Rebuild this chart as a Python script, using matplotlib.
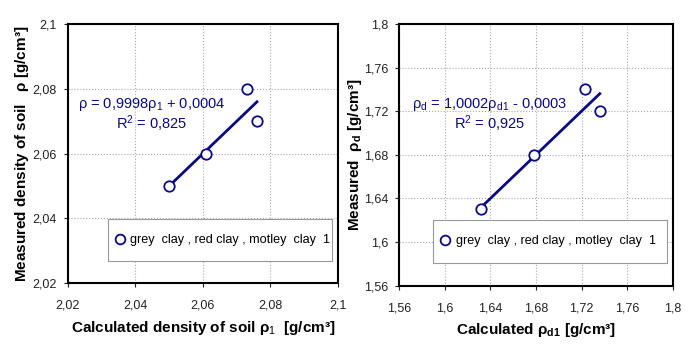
#------------------------------------------------------------------------------
# Measured vs calculated soil density (two panels)
#------------------------------------------------------------------------------

import matplotlib as mpl
import matplotlib.pyplot as plt
from matplotlib.patches import Rectangle
from matplotlib.ticker import FuncFormatter

mpl.rcParams['font.family'] = ['Liberation Sans', 'DejaVu Sans']
mpl.rcParams['mathtext.fontset'] = 'custom'
mpl.rcParams['mathtext.rm'] = 'Liberation Sans'
mpl.rcParams['mathtext.it'] = 'Liberation Sans:italic'
mpl.rcParams['mathtext.bf'] = 'Liberation Sans:bold'

# Left panel: density of soil
calc_rho1 = [2.050, 2.061, 2.073, 2.076]
meas_rho = [2.050, 2.060, 2.080, 2.070]
fit_left = (0.9998, 0.0004)
eq_left = 'ρ = 0,9998ρ$_1$ + 0,0004'
r2_left = 'R$^2$ = 0,825'
ticks_left = [2.02, 2.04, 2.06, 2.08, 2.1]

# Right panel: dry density
calc_rhod1 = [1.632, 1.678, 1.723, 1.736]
meas_rhod = [1.630, 1.680, 1.740, 1.720]
fit_right = (1.0002, -0.0003)
eq_right = 'ρ$_\\mathrm{d}$ = 1,0002ρ$_\\mathrm{d1}$ - 0,0003'
r2_right = 'R$^2$ = 0,925'
ticks_right = [1.56, 1.6, 1.64, 1.68, 1.72, 1.76, 1.8]

legend_label = 'grey  clay , red clay , motley  clay  1'
navy = '#0a0a80'


def comma_fmt(v, pos):
    s = f'{v:.2f}'.rstrip('0').rstrip('.')
    return s.replace('.', ',')


def draw_panel(ax, x, y, fit, eq, r2, ticks, eq_pos, leg_box):
    ax.plot(x, y, 'o', ms=7.5, mfc='white', mec=navy, mew=1.3,
            linestyle='none', label=legend_label, zorder=3)
    x0, x1 = min(x), max(x)
    ax.plot([x0, x1], [fit[0] * x0 + fit[1], fit[0] * x1 + fit[1]],
            '-', color=navy, linewidth=2.0, zorder=2)
    ax.set(xlim=(ticks[0], ticks[-1]), ylim=(ticks[0], ticks[-1]),
           xticks=ticks, yticks=ticks)
    ax.xaxis.set_major_formatter(FuncFormatter(comma_fmt))
    ax.yaxis.set_major_formatter(FuncFormatter(comma_fmt))
    ax.tick_params(direction='out', length=3, width=0.8, labelsize=9,
                   colors='#222222')
    ax.tick_params(axis='x', pad=9)
    ax.tick_params(axis='y', pad=5)
    ax.grid(True, linestyle=':', linewidth=0.8, color='#aaaaaa')
    for sp in ax.spines.values():
        sp.set_linewidth(1.5)
        sp.set_color('black')
    ax.text(eq_pos[0], eq_pos[1], eq, transform=ax.transAxes, ha='center',
            va='center', fontsize=10.5, color=navy)
    ax.text(eq_pos[0], eq_pos[1] - 0.075, r2, transform=ax.transAxes,
            ha='center', va='center', fontsize=10.5, color=navy)
    # legend box drawn as a plain rectangle, entry placed inside it
    ax.add_patch(Rectangle((leg_box[0], leg_box[1]), leg_box[2], leg_box[3],
                           transform=ax.transAxes, facecolor='white',
                           edgecolor='#999999', linewidth=0.8, zorder=4))
    leg = ax.legend(loc='center left',
                    bbox_to_anchor=(leg_box[0] + 0.025, leg_box[1] + leg_box[3] / 2),
                    fontsize=9.1, frameon=False, borderpad=0, borderaxespad=0,
                    handletextpad=0.45, handlelength=0.8)
    leg.set_zorder(5)
    for h in leg.legend_handles:
        h.set_markersize(7)


fig = plt.figure(figsize=(7.0, 3.49), dpi=100)

ax1 = fig.add_axes([0.0971, 0.189, 0.3857, 0.742])
draw_panel(ax1, calc_rho1, meas_rho, fit_left, eq_left, r2_left, ticks_left,
           (0.311, 0.689), (0.148, 0.085, 0.83, 0.162))
ax1.set_xlabel('Calculated density of soil ρ$_1$  [g/cm³]', fontsize=11,
               fontweight='bold', labelpad=5)
ax1.set_ylabel('Measured density of soil   $\\mathbf{\\rho}$ [g/cm³]', fontsize=11,
               fontweight='bold', labelpad=1)

ax2 = fig.add_axes([0.5704, 0.1814, 0.3906, 0.75])
draw_panel(ax2, calc_rhod1, meas_rhod, fit_right, eq_right, r2_right, ticks_right,
           (0.332, 0.692), (0.124, 0.087, 0.854, 0.164))
ax2.set_xlabel('Calculated ρ$_\\mathbf{d1}$ [g/cm³]', fontsize=11,
               fontweight='bold', labelpad=5)
ax2.set_ylabel('Measured  $\\mathbf{\\rho_d}$ [g/cm³]', fontsize=11,
               fontweight='bold', labelpad=0)

fig.savefig('out.png', dpi=100)
